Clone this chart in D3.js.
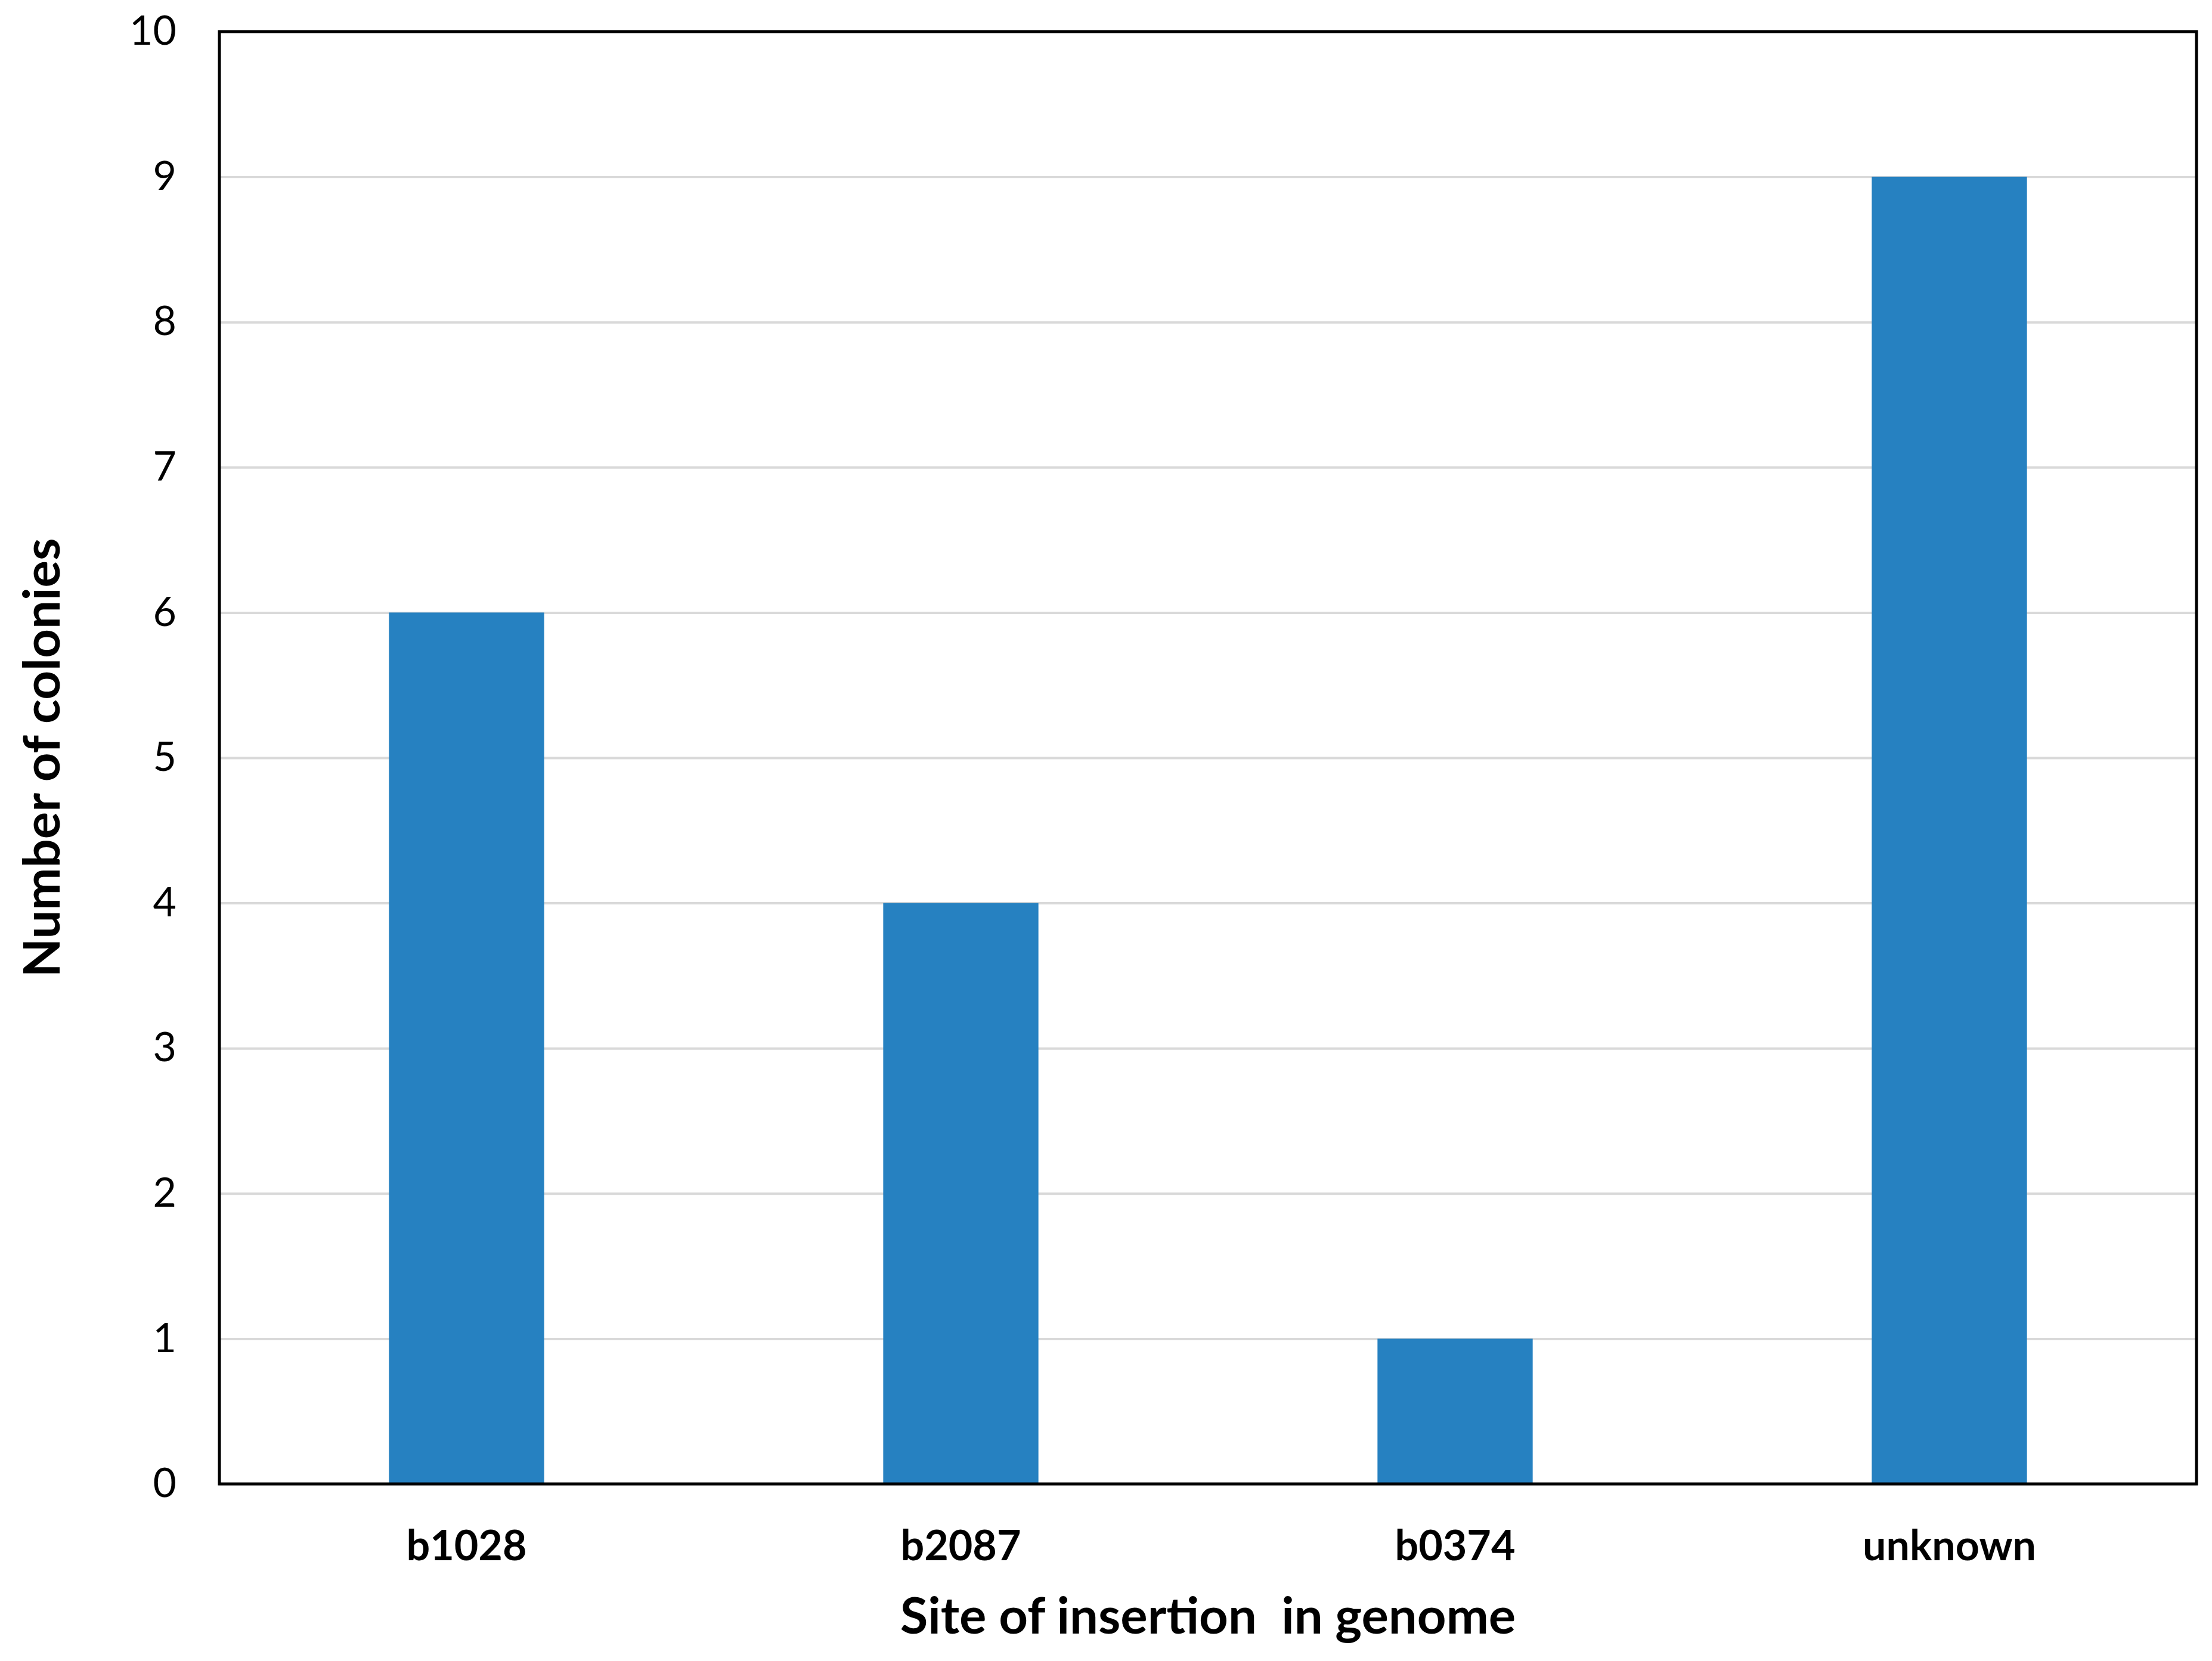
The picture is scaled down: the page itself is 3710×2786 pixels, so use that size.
<!DOCTYPE html>
<html>
<head>
<meta charset="utf-8">
<script src="https://cdn.jsdelivr.net/npm/d3@7"></script>
<style>
  body { margin: 0; background: #fff; }
  text { font-family: Lato, "Open Sans", sans-serif; }
</style>
</head>
<body>
<script>
// chart values
var sites = ["b1028", "b2087", "b0374", "unknown"];
var colonies = [6, 4, 1, 9];
var yTicks = [0, 1, 2, 3, 4, 5, 6, 7, 8, 9, 10];
var xTitle = "Site of insertion \u00a0in genome";
var yTitle = "Number of colonies";

var width = 3710, height = 2786;
var margin = {top: 53, right: 26, bottom: 297, left: 368};

var svg = d3.select("body")
            .append("svg")
            .attr("width", width)
            .attr("height", height);

var x = d3.scaleBand()
          .domain(sites)
          .range([margin.left, width - margin.right])
          .paddingInner(0.686)
          .paddingOuter(0.343);

var y = d3.scaleLinear()
          .domain([0, 10])
          .range([height - margin.bottom, margin.top]);

// gridlines
svg.append("g")
   .attr("transform", "translate(" + margin.left + ",0)")
   .call(d3.axisLeft(y).tickValues(yTicks).tickSize(-(width - margin.left - margin.right)).tickFormat(""))
   .call(function(g) {
       g.select(".domain").remove();
       g.selectAll("line").attr("stroke", "#d9d9d9").attr("stroke-width", 4);
   });

// bars
svg.selectAll("rect.bar")
   .data(colonies)
   .enter()
      .append("rect")
      .attr("class", "bar")
      .attr("x", function(d, i) { return x(sites[i]); })
      .attr("y", function(d) { return y(d); })
      .attr("width", x.bandwidth())
      .attr("height", function(d) { return y(0) - y(d); })
      .attr("fill", "#2681c1");

// plot frame
svg.append("rect")
   .attr("x", margin.left)
   .attr("y", margin.top)
   .attr("width", width - margin.left - margin.right)
   .attr("height", height - margin.top - margin.bottom)
   .attr("fill", "none")
   .attr("stroke", "#000")
   .attr("stroke-width", 5);

// y tick labels
svg.append("g")
   .attr("transform", "translate(" + margin.left + ",0)")
   .call(d3.axisLeft(y).tickValues(yTicks).tickSize(0).tickPadding(72))
   .call(function(g) {
       g.select(".domain").remove();
       g.selectAll("text").attr("font-size", 68).attr("fill", "#000")
        .attr("font-family", "Lato, sans-serif");
   });

// x tick labels
svg.append("g")
   .attr("transform", "translate(0," + y(0) + ")")
   .call(d3.axisBottom(x).tickSize(0).tickPadding(78))
   .call(function(g) {
       g.select(".domain").remove();
       g.selectAll("text").attr("font-size", 70).attr("font-weight", "bold").attr("fill", "#000")
        .attr("font-family", "Lato, sans-serif");
   });

// axis titles
svg.append("text")
   .attr("x", (margin.left + width - margin.right) / 2)
   .attr("y", 2740)
   .attr("text-anchor", "middle")
   .attr("font-size", 85)
   .attr("font-weight", "bold")
   .text(xTitle);

svg.append("text")
   .attr("transform", "translate(100," + (margin.top + height - margin.bottom) / 2 + ") rotate(-90)")
   .attr("text-anchor", "middle")
   .attr("font-size", 85)
   .attr("font-weight", "bold")
   .text(yTitle);
</script>
</body>
</html>
